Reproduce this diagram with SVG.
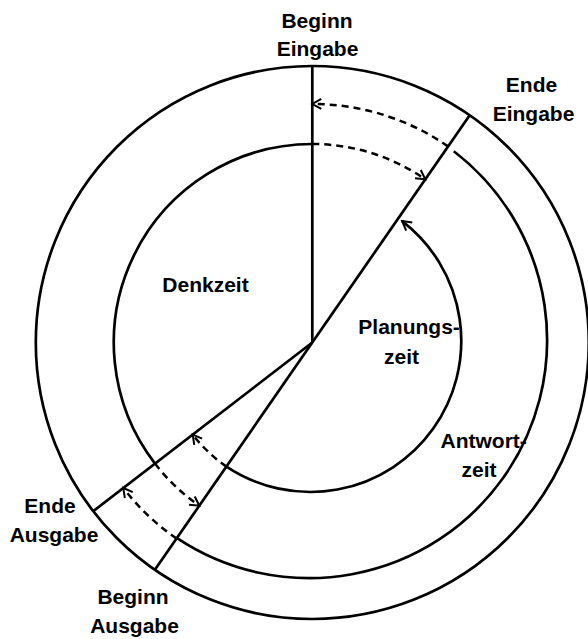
<svg xmlns="http://www.w3.org/2000/svg" width="588" height="639" viewBox="0 0 588 639">
  <style>
    .ln { fill: none; stroke: #000; stroke-width: 2.7; stroke-linecap: butt; }
    .ds { fill: none; stroke: #000; stroke-width: 2.5; stroke-dasharray: 7 5; }
    .lbl { font-family: "Liberation Sans", Arial, Helvetica, sans-serif; font-weight: bold; font-size: 21px; fill: #000; }
  </style>
  <defs>
    <marker id="arr" markerUnits="userSpaceOnUse" viewBox="-12 -8 14 16" refX="0" refY="0" markerWidth="14" markerHeight="16" orient="auto" overflow="visible">
      <path d="M-9,-5 L0,0 L-9,5" fill="none" stroke="#000" stroke-width="2"/>
    </marker>
  </defs>
  <rect width="588" height="639" fill="#fff"/>

  <g id="structure">
    <circle id="outer" class="ln" cx="312.3" cy="342.5" r="276.5"/>
  </g>

  <g id="connectors">
    <line class="ln" x1="312.3" y1="342.5" x2="312.3" y2="66"/>
    <line class="ln" x1="154.9" y1="569.8" x2="469.7" y2="115.2"/>
    <line class="ln" x1="312.3" y1="342.5" x2="93.2" y2="511.2"/>
    <path class="ln" d="M312.3,144 A198.5,198.5 0 0 0 155.0,463.6"/>
    <path class="ln" d="M453.8,151.2 A238,238 0 0 1 177.1,538.2"/>
    <path class="ln" d="M226.5,466.6 A151,151 0 0 0 402.1,221.1" marker-end="url(#arr)"/>
    <path class="ds" d="M312.3,144 A198.5,198.5 0 0 1 425.3,179.3" marker-end="url(#arr)"/>
    <path class="ds" d="M448.1,146.4 A238.5,238.5 0 0 0 312.3,104" marker-end="url(#arr)"/>
    <path class="ds" d="M155.0,463.6 A198.5,198.5 0 0 0 199.3,505.7" marker-end="url(#arr)"/>
    <path class="ds" d="M176.6,538.6 A238.5,238.5 0 0 1 123.3,488" marker-end="url(#arr)"/>
    <path class="ds" d="M226.5,466.6 A151,151 0 0 1 192.7,434.6" marker-end="url(#arr)"/>
  </g>

  <g id="beginn-eingabe">
    <text class="lbl" x="317" y="28" text-anchor="middle">Beginn</text>
    <text class="lbl" x="317.5" y="56" text-anchor="middle">Eingabe</text>
  </g>
  <g id="ende-eingabe">
    <text class="lbl" x="531.5" y="92" text-anchor="middle">Ende</text>
    <text class="lbl" x="533.5" y="121" text-anchor="middle">Eingabe</text>
  </g>
  <g id="ende-ausgabe">
    <text class="lbl" x="50" y="513" text-anchor="middle">Ende</text>
    <text class="lbl" x="54" y="541.5" text-anchor="middle">Ausgabe</text>
  </g>
  <g id="beginn-ausgabe">
    <text class="lbl" x="133" y="604" text-anchor="middle">Beginn</text>
    <text class="lbl" x="134.5" y="633" text-anchor="middle">Ausgabe</text>
  </g>
  <g id="denkzeit">
    <text class="lbl" x="205.5" y="292" text-anchor="middle">Denkzeit</text>
  </g>
  <g id="planungszeit">
    <text class="lbl" x="358.3" y="333.5">Planungs-</text>
    <text class="lbl" x="401.5" y="363.5" text-anchor="middle">zeit</text>
  </g>
  <g id="antwortzeit">
    <text class="lbl" x="483.7" y="448" text-anchor="middle">Antwort-</text>
    <text class="lbl" x="479" y="477" text-anchor="middle">zeit</text>
  </g>
</svg>
